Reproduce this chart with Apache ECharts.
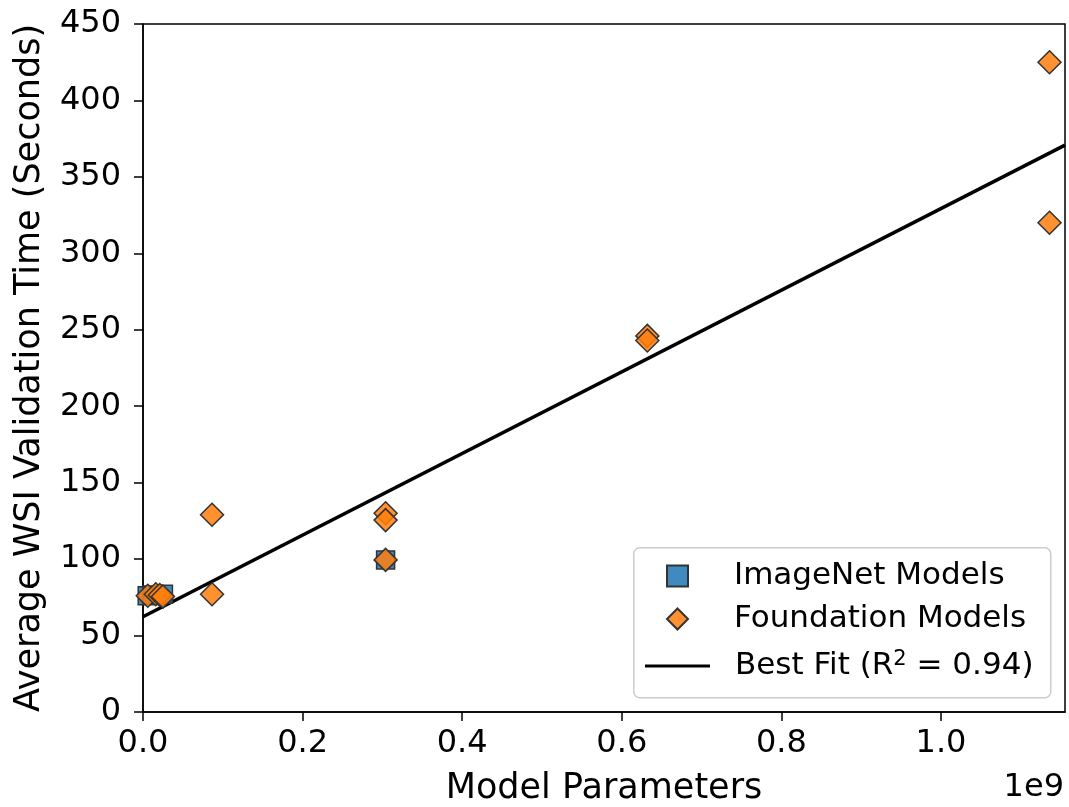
<!DOCTYPE html>
<html>
<head>
<meta charset="utf-8">
<title>WSI Validation Time vs Model Parameters</title>
<script src="https://cdn.jsdelivr.net/npm/echarts@6/dist/echarts.min.js"></script>
<style>
  html, body { margin: 0; padding: 0; background: #fff; }
  #chart { width: 1069px; height: 807px; }
</style>
</head>
<body>
<div id="chart"></div>
<script>
// ImageNet-pretrained backbones: parameter count and mean validation time (s)
const imagenetParams = [5.3e6, 11.7e6, 25.6e6, 304e6];
const imagenetTimes  = [76, 76.5, 77, 99.5];

// Pathology foundation models
const foundationParams = [6e6, 16e6, 21e6, 25e6, 86.5e6, 86.5e6, 304e6, 304e6, 304e6, 632e6, 632e6, 1136e6, 1136e6];
const foundationTimes  = [76, 77, 76.5, 75.5, 129, 77, 130, 125.5, 99.5, 246, 243, 425, 320];

// Linear fit of time against parameters
const fitIntercept = 62.3;        // seconds
const fitSlopePerParam = 267e-9;  // seconds per parameter
const fitLabel = 'Best Fit (R\u00B2 = 0.94)';

// Axis settings
const xMax = 1.1554e9;
const xInterval = 0.2e9;
const yMax = 450;
const yInterval = 50;

const font = 'DejaVu Sans';
const fitX = [0, xMax];
const fitData = fitX.map(x => [x, fitIntercept + fitSlopePerParam * x]);

const legendText = { fontFamily: font, fontSize: 31, color: '#000', lineHeight: 34 };

const chart = echarts.init(document.getElementById('chart'), null, { renderer: 'canvas' });

chart.setOption({
  animation: false,
  backgroundColor: '#ffffff',
  textStyle: { fontFamily: font, color: '#000' },
  grid: {
    left: 143, right: 4, top: 24, bottom: 95,
    show: true, borderColor: '#000', borderWidth: 1.5,
    containLabel: false,
    outerBoundsMode: 'none'
  },
  xAxis: {
    type: 'value',
    min: 0, max: xMax, interval: xInterval,
    name: 'Model Parameters',
    nameLocation: 'middle',
    nameGap: 59,
    nameMoveOverlap: false,
    nameTextStyle: { fontFamily: font, fontSize: 35, color: '#000' },
    axisLine: { show: true, onZero: false, lineStyle: { color: '#000', width: 1.5 } },
    axisTick: { show: true, inside: false, length: 9, lineStyle: { color: '#000', width: 1.5 } },
    axisLabel: {
      fontFamily: font, fontSize: 32, color: '#000', margin: 16,
      showMaxLabel: false,
      formatter: v => (v / 1e9).toFixed(1)
    },
    splitLine: { show: false }
  },
  yAxis: {
    type: 'value',
    min: 0, max: yMax, interval: yInterval,
    name: 'Average WSI Validation Time (Seconds)',
    nameLocation: 'middle',
    nameGap: 96,
    nameMoveOverlap: false,
    nameTextStyle: { fontFamily: font, fontSize: 35, color: '#000' },
    axisLine: { show: true, lineStyle: { color: '#000', width: 1.5 } },
    axisTick: { show: true, inside: false, length: 9, lineStyle: { color: '#000', width: 1.5 } },
    axisLabel: { fontFamily: font, fontSize: 32, color: '#000', margin: 22 },
    splitLine: { show: false }
  },
  legend: [
    {
      // marker entries
      orient: 'vertical',
      left: 666,
      top: 559,
      padding: 0,
      itemWidth: 21,
      itemHeight: 21,
      itemGap: 9,
      textStyle: Object.assign({ padding: [0, 0, 0, 41] }, legendText),
      data: ['ImageNet Models', 'Foundation Models']
    },
    {
      // fitted line entry
      orient: 'vertical',
      left: 645,
      top: 649,
      padding: 0,
      itemWidth: 65,
      itemHeight: 3,
      textStyle: Object.assign({
        padding: [0, 0, 0, 20],
        rich: {
          sup: { fontFamily: font, fontSize: 21, color: '#000', verticalAlign: 'top', padding: [0, 0, 12, 0] }
        }
      }, legendText),
      formatter: name => name === fitLabel ? 'Best Fit (R{sup|2} = 0.94)' : name,
      data: [{ name: fitLabel, icon: 'rect', itemStyle: { color: '#000' } }]
    }
  ],
  series: [
    {
      name: fitLabel,
      type: 'line',
      data: fitData,
      showSymbol: false,
      symbol: 'none',
      lineStyle: { color: '#000', width: 3.5 },
      itemStyle: { color: '#000' },
      z: 1
    },
    {
      name: 'ImageNet Models',
      type: 'scatter',
      symbol: 'rect',
      symbolSize: 18,
      data: imagenetParams.map((p, i) => [p, imagenetTimes[i]]),
      itemStyle: { color: 'rgba(31,119,180,0.86)', borderColor: '#333', borderWidth: 1.5, opacity: 1 },
      z: 2
    },
    {
      name: 'Foundation Models',
      type: 'scatter',
      symbol: 'diamond',
      symbolSize: 23,
      data: foundationParams.map((p, i) => [p, foundationTimes[i]]),
      itemStyle: { color: 'rgba(255,127,14,0.86)', borderColor: '#333', borderWidth: 1.5, opacity: 1 },
      z: 3
    }
  ],
  graphic: [
    {
      // legend frame
      type: 'rect',
      left: 633,
      top: 547,
      z: 0,
      shape: { width: 417, height: 150, r: 6 },
      style: { fill: 'rgba(255,255,255,0.8)', stroke: '#cccccc', lineWidth: 1.5 }
    },
    {
      type: 'text',
      right: 5,
      top: 772,
      style: { text: '1e9', fontFamily: font, fontSize: 32, fill: '#000' }
    }
  ]
});
</script>
</body>
</html>
